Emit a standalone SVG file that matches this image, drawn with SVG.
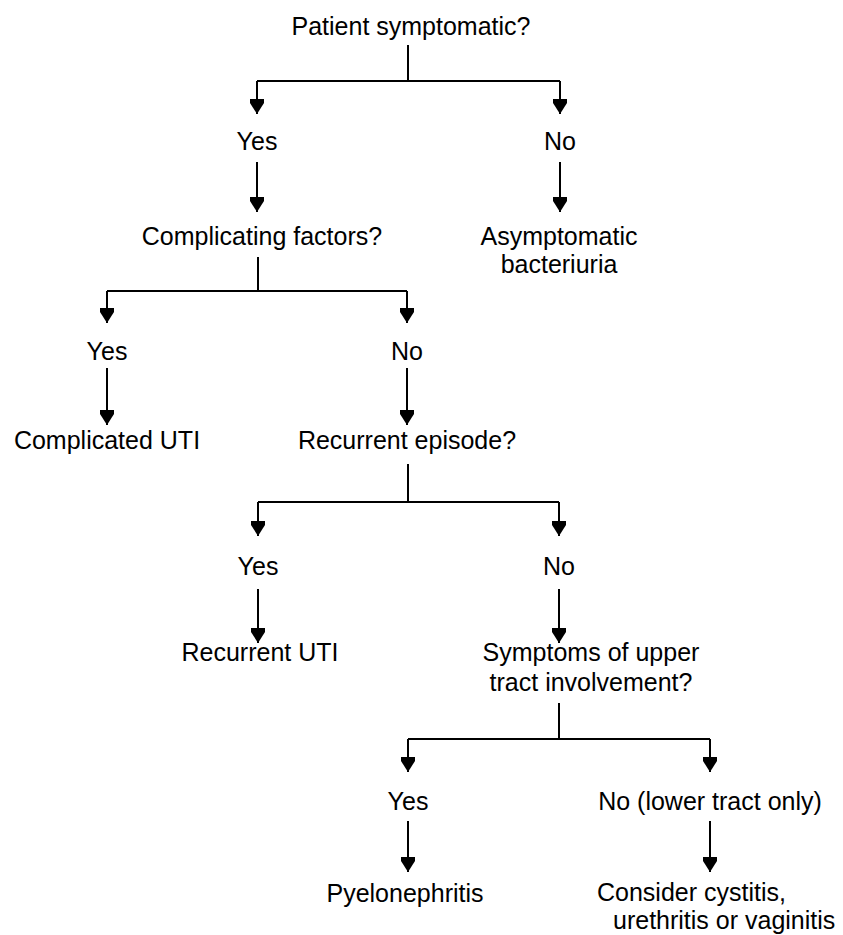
<svg xmlns="http://www.w3.org/2000/svg" width="843" height="935" viewBox="0 0 843 935">
<style>
text{font-family:"Liberation Sans",Arial,sans-serif;font-size:25px;fill:#000;text-anchor:middle}
.s{text-anchor:start}
.c path{fill:none;stroke:#000;stroke-width:2}
</style>
<defs>
<marker id="ah" markerUnits="userSpaceOnUse" markerWidth="15" markerHeight="14" viewBox="0 0 15 14" refX="15" refY="7" orient="auto">
<path d="M0,0 L4,0 L15,7 L4,14 L0,14 Z" fill="#000"/>
</marker>
</defs>
<rect width="843" height="935" fill="#fff"/>
<g class="c" id="connectors">
<path d="M408,45 V81 M257,81 H560"/>
<path d="M257,81 V114" marker-end="url(#ah)"/>
<path d="M560,81 V114" marker-end="url(#ah)"/>
<path d="M257,162 V212" marker-end="url(#ah)"/>
<path d="M560,162 V212" marker-end="url(#ah)"/>
<path d="M258,257 V291 M107,291 H407"/>
<path d="M107,291 V323" marker-end="url(#ah)"/>
<path d="M407,291 V323" marker-end="url(#ah)"/>
<path d="M107,368 V425" marker-end="url(#ah)"/>
<path d="M407,368 V425" marker-end="url(#ah)"/>
<path d="M408,464 V502 M258,502 H559"/>
<path d="M258,502 V536" marker-end="url(#ah)"/>
<path d="M559,502 V536" marker-end="url(#ah)"/>
<path d="M258,589 V643" marker-end="url(#ah)"/>
<path d="M559,589 V643" marker-end="url(#ah)"/>
<path d="M559,703 V739 M408,739 H710"/>
<path d="M408,739 V772" marker-end="url(#ah)"/>
<path d="M710,739 V772" marker-end="url(#ah)"/>
<path d="M408,821 V872" marker-end="url(#ah)"/>
<path d="M710,821 V872" marker-end="url(#ah)"/>
</g>
<g id="n-patient"><text x="411" y="35">Patient symptomatic?</text></g>
<g id="n-yes1"><text x="257" y="150">Yes</text></g>
<g id="n-no1"><text x="560" y="150">No</text></g>
<g id="n-complicating"><text x="262" y="245">Complicating factors?</text></g>
<g id="n-asymptomatic"><text x="559" y="245">Asymptomatic</text><text x="559" y="273">bacteriuria</text></g>
<g id="n-yes2"><text x="107" y="360">Yes</text></g>
<g id="n-no2"><text x="407" y="360">No</text></g>
<g id="n-complicated"><text x="107" y="449">Complicated UTI</text></g>
<g id="n-recurrent-ep"><text x="407" y="449">Recurrent episode?</text></g>
<g id="n-yes3"><text x="258" y="575">Yes</text></g>
<g id="n-no3"><text x="559" y="575">No</text></g>
<g id="n-recurrent-uti"><text x="260" y="661">Recurrent UTI</text></g>
<g id="n-upper"><text x="591" y="661">Symptoms of upper</text><text x="591" y="691">tract involvement?</text></g>
<g id="n-yes4"><text x="408" y="810">Yes</text></g>
<g id="n-no4"><text x="710" y="810">No (lower tract only)</text></g>
<g id="n-pyelo"><text x="405" y="902">Pyelonephritis</text></g>
<g id="n-consider"><text class="s" x="597" y="901">Consider cystitis,</text><text class="s" x="613" y="929">urethritis or vaginitis</text></g>
</svg>
